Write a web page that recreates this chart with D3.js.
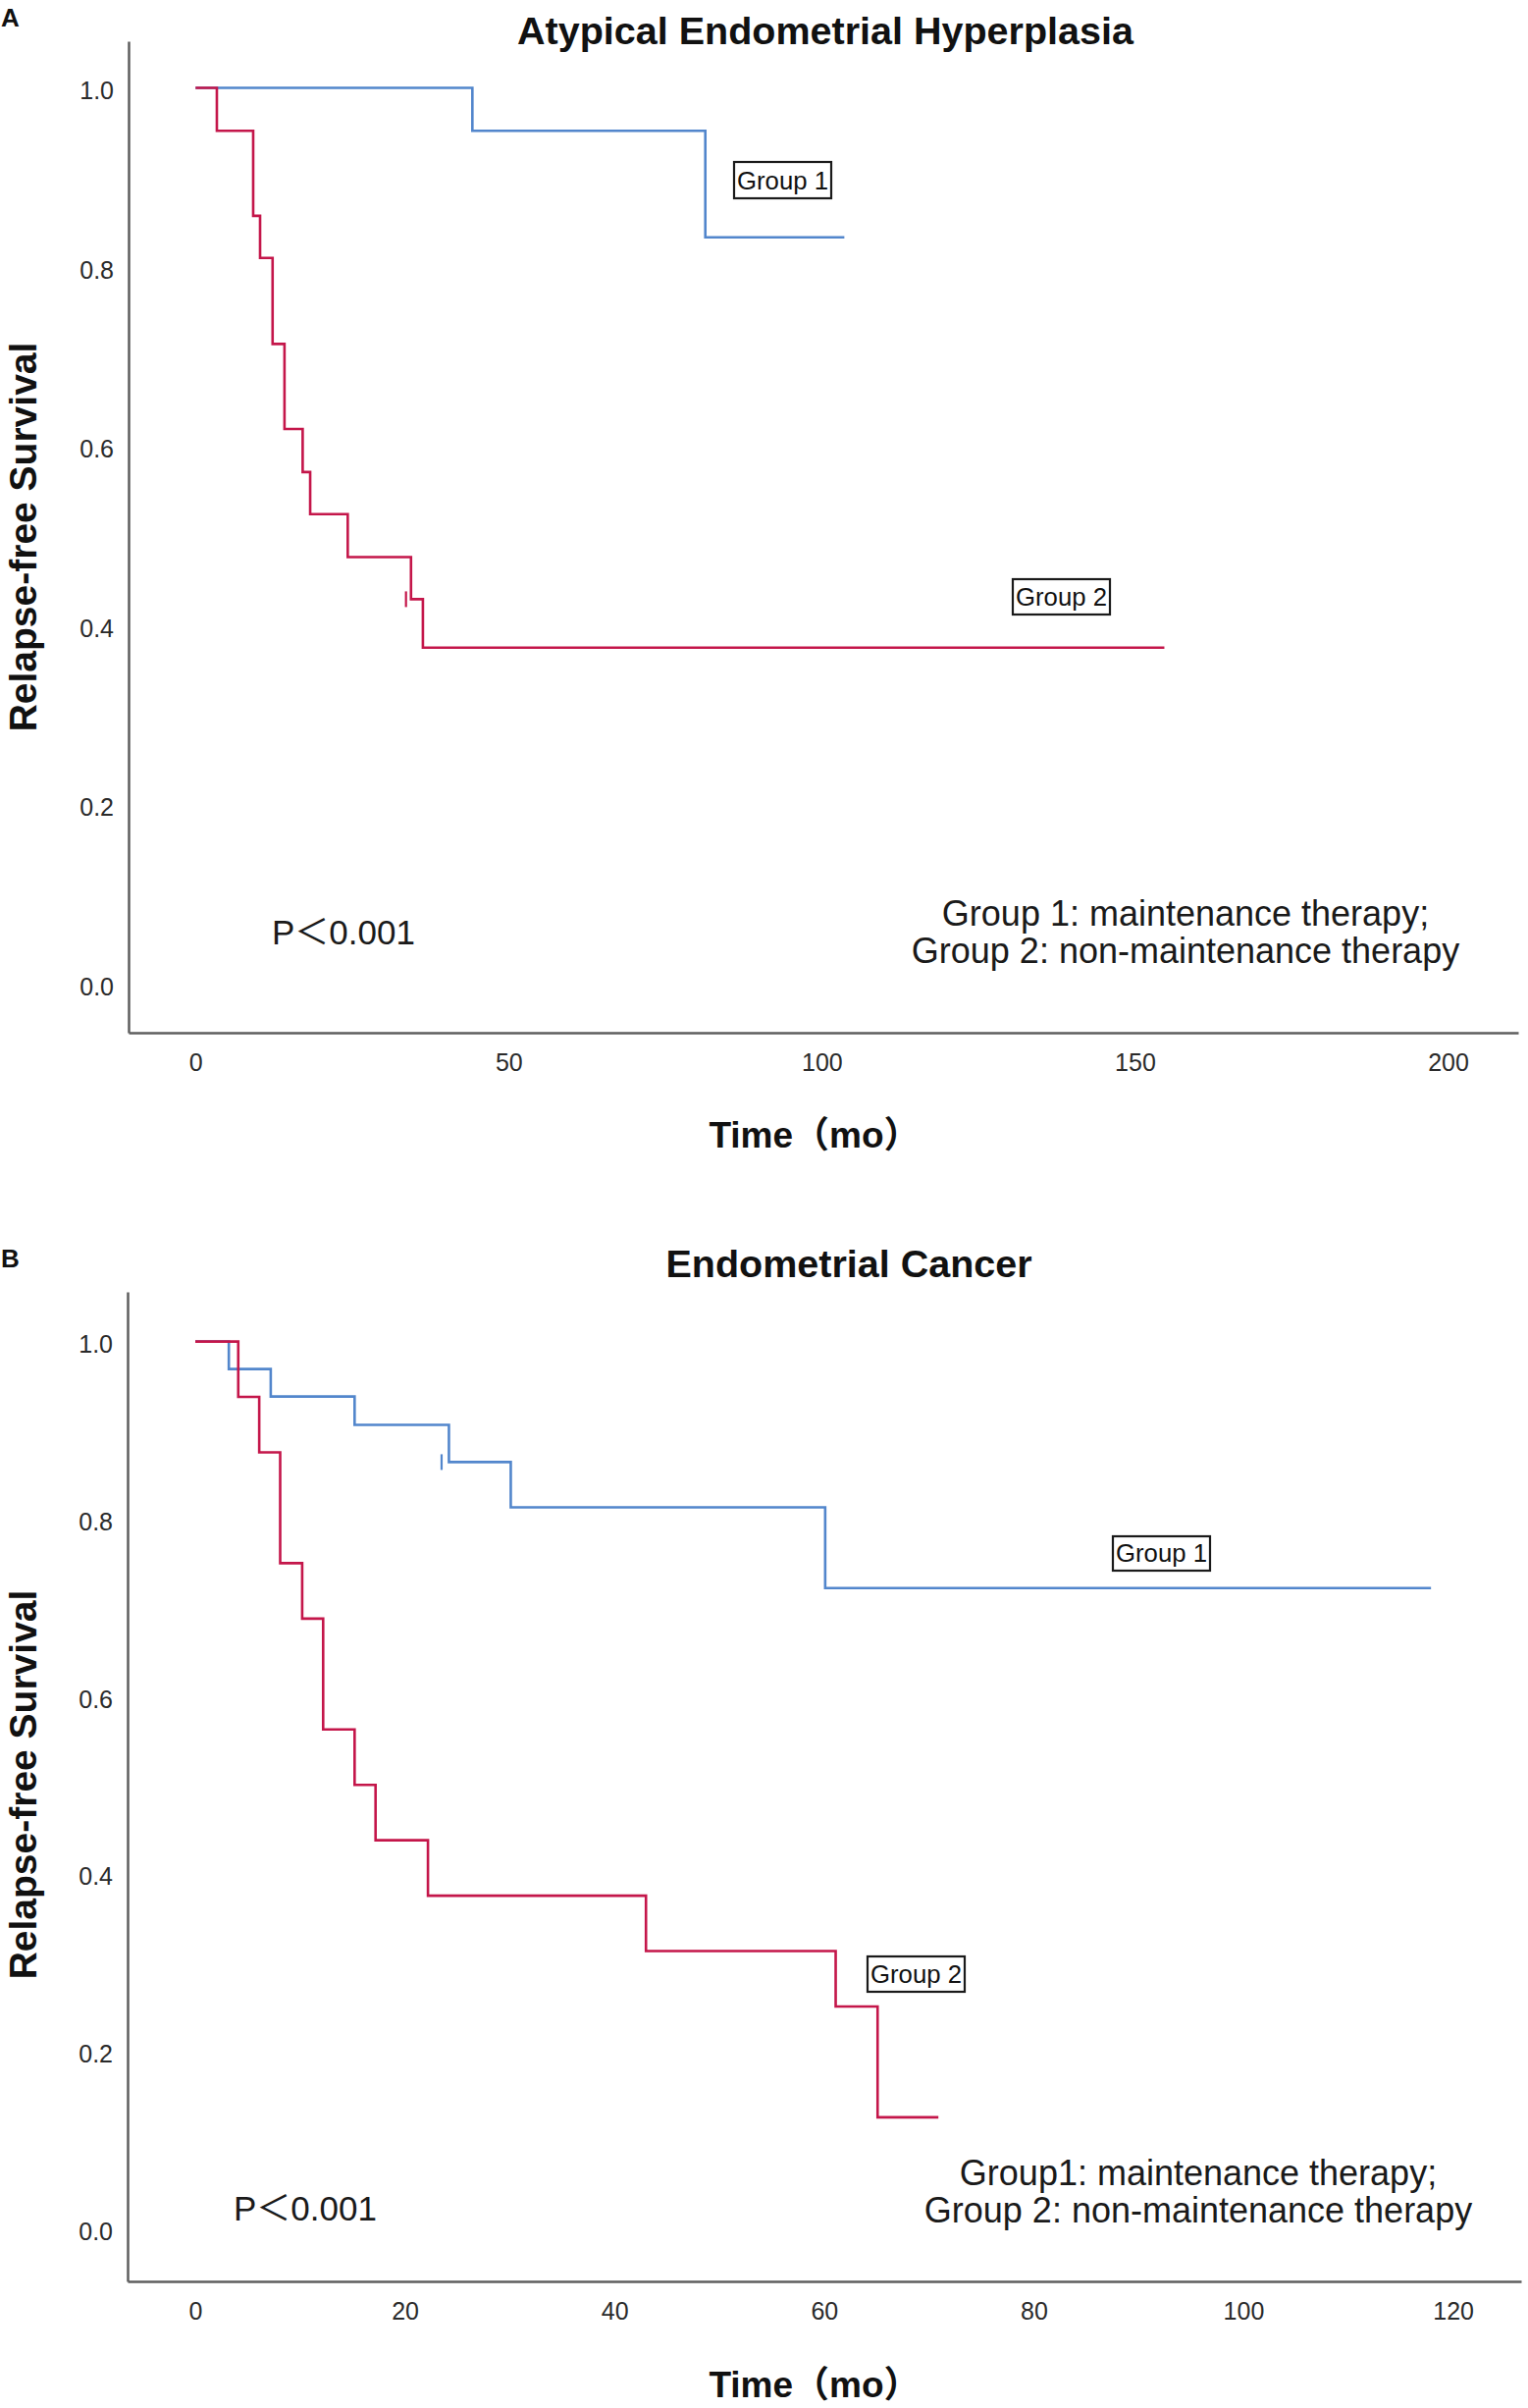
<!DOCTYPE html>
<html>
<head>
<meta charset="utf-8">
<script src="https://cdn.jsdelivr.net/npm/d3@7/dist/d3.min.js"></script>
<style>
  html, body { margin: 0; padding: 0; background: #fff; }
  svg { display: block; }
  text { font-family: "Liberation Sans", Arial, "Noto Sans CJK SC", sans-serif; }
</style>
</head>
<body>
<svg id="chart" width="1557" height="2453"></svg>
<script>
// ---------------- DATA ----------------
// Panel A: Atypical Endometrial Hyperplasia (Kaplan-Meier steps)
const aheTimeG1 = [0, 44.2, 81.4, 103.6];
const aheSurvG1 = [1, 0.952, 0.833, 0.833];
const aheTimeG2 = [0, 3.4, 9.2, 10.3, 12.3, 14.2, 17.1, 18.3, 24.3, 34.4, 36.3, 154.7];
const aheSurvG2 = [1, 0.952, 0.857, 0.810, 0.714, 0.619, 0.571, 0.524, 0.476, 0.429, 0.375, 0.375];
const aheCensorG2 = [[33.6, 0.429]];

// Panel B: Endometrial Cancer
const ecTimeG1 = [0, 3.2, 7.2, 15.2, 24.2, 30.1, 60.1, 117.9];
const ecSurvG1 = [1, 0.969, 0.938, 0.906, 0.864, 0.813, 0.722, 0.722];
const ecTimeG2 = [0, 4.1, 6.1, 8.1, 10.2, 12.2, 15.2, 17.2, 22.2, 43.0, 61.1, 65.1, 70.9];
const ecSurvG2 = [1, 0.9375, 0.875, 0.75, 0.6875, 0.5625, 0.5, 0.4375, 0.375, 0.3125, 0.25, 0.125, 0.125];
const ecCensorG1 = [[23.5, 0.864]];

// Tick labels
const yTickValues = [0, 0.2, 0.4, 0.6, 0.8, 1.0];
const xTicksA = [0, 50, 100, 150, 200];
const xTicksB = [0, 20, 40, 60, 80, 100, 120];

// Texts
const titles = ["Atypical Endometrial Hyperplasia", "Endometrial Cancer"];
const panelLetters = ["A", "B"];
const yLabel = "Relapse-free Survival";
const xLabel = "Time\uFF08mo\uFF09";
const pText = "P\uFF1C0.001";
const legendA = ["Group 1: maintenance therapy;", "Group 2: non-maintenance therapy"];
const legendB = ["Group1: maintenance therapy;", "Group 2: non-maintenance therapy"];
const groupNames = ["Group 1", "Group 2"];

// ---------------- STYLE ----------------
const BLUE = "#5286cc";
const RED = "#c4164a";
const AXIS = "#5e5e5e";

const svg = d3.select("#chart");

function zip(t, s) { return t.map((d, i) => [d, s[i]]); }

function drawPanel(cfg) {
  const g = svg.append("g");
  const x = d3.scaleLinear().domain(cfg.xDomain).range([cfg.left, cfg.right]);
  const y = d3.scaleLinear().domain(cfg.yDomain).range([cfg.bottom, cfg.top]);

  // panel letter
  g.append("text").attr("x", 1).attr("y", cfg.letterY)
    .attr("font-size", 26).attr("font-weight", "bold").attr("fill", "#111")
    .text(cfg.letter);

  // title
  g.append("text").attr("x", cfg.titleX).attr("y", cfg.titleY)
    .attr("text-anchor", "middle").attr("font-size", 39.5).attr("font-weight", "bold")
    .attr("fill", "#111").text(cfg.title);

  // x axis
  const xAxis = d3.axisBottom(x).tickValues(cfg.xTicks).tickSize(0).tickPadding(0)
    .tickFormat(d3.format("d"));
  const gx = g.append("g").attr("transform", `translate(0,${cfg.bottom})`).call(xAxis);
  gx.select(".domain").attr("stroke", AXIS).attr("stroke-width", 2.5);
  gx.selectAll(".tick text").attr("y", 39).attr("dy", null)
    .attr("font-size", 25).attr("fill", "#2a2a2a")
    .attr("font-family", "'Liberation Sans', Arial, sans-serif");

  // y axis
  const yAxis = d3.axisLeft(y).tickValues(yTickValues).tickSize(0).tickPadding(15)
    .tickFormat(d3.format(".1f"));
  const gy = g.append("g").attr("transform", `translate(${cfg.left},0)`).call(yAxis);
  gy.select(".domain").attr("stroke", AXIS).attr("stroke-width", 2.5);
  gy.selectAll(".tick text").attr("dy", "0.45em")
    .attr("font-size", 25).attr("fill", "#2a2a2a")
    .attr("font-family", "'Liberation Sans', Arial, sans-serif");

  // axis titles
  g.append("text")
    .attr("transform", `translate(37,${cfg.yLabelY}) rotate(-90)`)
    .attr("text-anchor", "middle").attr("font-size", 39).attr("font-weight", "bold")
    .attr("fill", "#111").text(yLabel);
  g.append("text").attr("x", 830).attr("y", cfg.xLabelY)
    .attr("text-anchor", "middle").attr("font-size", 37).attr("font-weight", "bold")
    .attr("fill", "#111").text(xLabel);

  // survival curves
  const line = d3.line().x(d => x(d[0])).y(d => y(d[1])).curve(d3.curveStepAfter);
  cfg.series.forEach(s => {
    g.append("path").datum(zip(s.t, s.s))
      .attr("d", line).attr("fill", "none")
      .attr("stroke", s.color).attr("stroke-width", 2.6)
      .attr("stroke-linejoin", "miter");
    (s.censor || []).forEach(c => {
      g.append("line")
        .attr("x1", x(c[0])).attr("x2", x(c[0]))
        .attr("y1", y(c[1]) - 8).attr("y2", y(c[1]) + 8)
        .attr("stroke", s.color).attr("stroke-width", 2.2);
    });
  });

  // group boxes
  cfg.boxes.forEach(b => {
    g.append("rect").attr("x", b.x).attr("y", b.y).attr("width", b.w).attr("height", b.h)
      .attr("fill", "#fff").attr("stroke", "#1a1a1a").attr("stroke-width", 2.2);
    g.append("text").attr("x", b.x + 3).attr("y", b.y + b.h - 9)
      .attr("font-size", 25).attr("fill", "#111")
      .attr("textLength", b.w - 6).attr("lengthAdjust", "spacingAndGlyphs")
      .text(b.label);
  });

  // p value
  g.append("text").attr("x", cfg.pX).attr("y", cfg.pY)
    .attr("font-size", 35).attr("fill", "#1a1a1a").text(pText);

  // legend text
  cfg.legend.forEach((t, i) => {
    g.append("text").attr("x", cfg.legendX).attr("y", cfg.legendY + i * cfg.legendDy)
      .attr("text-anchor", "middle").attr("font-size", 36).attr("fill", "#1a1a1a")
      .text(t);
  });
}

drawPanel({
  letter: panelLetters[0], letterY: 27,
  title: titles[0], titleX: 841, titleY: 45,
  left: 131, right: 1547, top: 42, bottom: 1052,
  xDomain: [-10.7, 211.2], yDomain: [-0.055, 1.052],
  xTicks: xTicksA,
  yLabelY: 547, xLabelY: 1169,
  series: [
    { t: aheTimeG1, s: aheSurvG1, color: BLUE },
    { t: aheTimeG2, s: aheSurvG2, color: RED, censor: aheCensorG2 }
  ],
  boxes: [
    { x: 748, y: 165, w: 99, h: 37, label: groupNames[0] },
    { x: 1032, y: 590, w: 99, h: 36, label: groupNames[1] }
  ],
  pX: 277, pY: 962,
  legend: legendA, legendX: 1208, legendY: 943, legendDy: 37.5
});

drawPanel({
  letter: panelLetters[1], letterY: 1291,
  title: titles[1], titleX: 865, titleY: 1301,
  left: 130, right: 1550, top: 1316, bottom: 2324,
  xDomain: [-6.46, 126.5], yDomain: [-0.06, 1.056],
  xTicks: xTicksB,
  yLabelY: 1818, xLabelY: 2442,
  series: [
    { t: ecTimeG1, s: ecSurvG1, color: BLUE, censor: ecCensorG1 },
    { t: ecTimeG2, s: ecSurvG2, color: RED }
  ],
  boxes: [
    { x: 1134, y: 1565, w: 99, h: 35, label: groupNames[0] },
    { x: 884, y: 1993, w: 99, h: 36, label: groupNames[1] }
  ],
  pX: 238, pY: 2262,
  legend: legendB, legendX: 1221, legendY: 2226, legendDy: 37.5
});
</script>
</body>
</html>
